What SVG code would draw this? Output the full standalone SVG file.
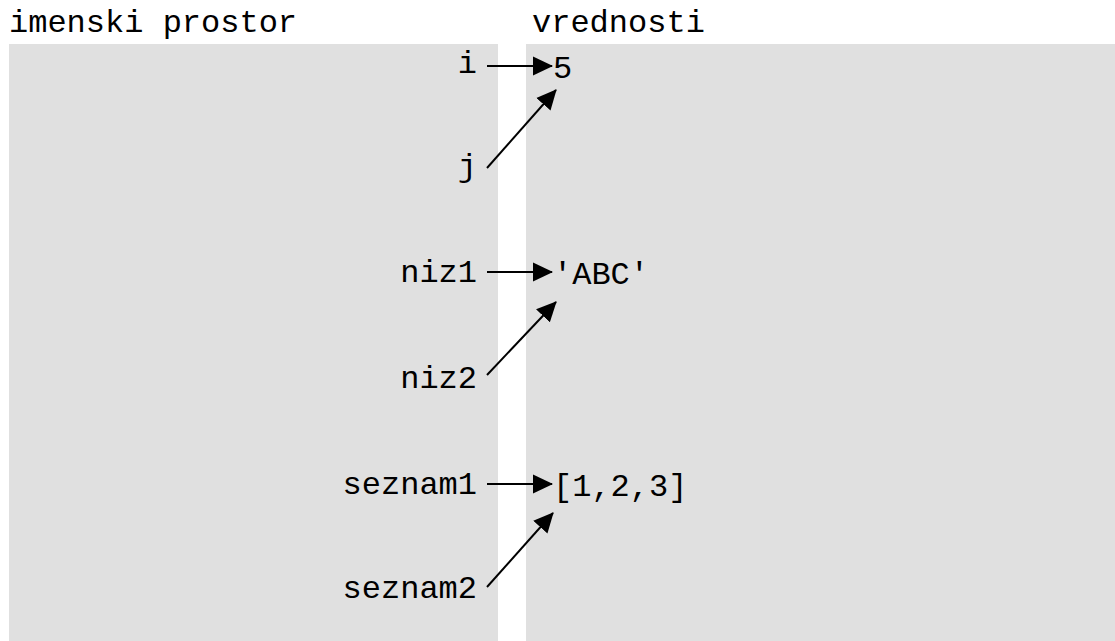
<svg xmlns="http://www.w3.org/2000/svg" width="1115" height="641" viewBox="0 0 1115 641">
<style>
text{font-family:"Liberation Mono","Courier New",monospace;font-size:32px;fill:#000}
.n{text-anchor:end}
.panel{fill:#e0e0e0}
.c line{stroke:#000;stroke-width:2;marker-end:url(#ah)}
</style>
<defs>
<marker id="ah" viewBox="0 0 20 20" refX="19" refY="10" markerWidth="20" markerHeight="20" markerUnits="userSpaceOnUse" orient="auto">
<path d="M0,0.5 L20,10 L0,19.5 Z" fill="#000"/>
</marker>
</defs>
<rect width="1115" height="641" fill="#fff"/>
<g id="namespace">
<rect class="panel" x="9" y="44" width="489" height="597"/>
<text x="9" y="32">imenski prostor</text>
</g>
<g id="values">
<rect class="panel" x="526" y="44" width="589" height="597"/>
<text x="532" y="32">vrednosti</text>
</g>
<g id="name-i"><text class="n" x="477" y="73">i</text></g>
<g id="name-j"><text class="n" x="477" y="176">j</text></g>
<g id="name-niz1"><text class="n" x="477" y="282">niz1</text></g>
<g id="name-niz2"><text class="n" x="477" y="388">niz2</text></g>
<g id="name-seznam1"><text class="n" x="477" y="494">seznam1</text></g>
<g id="name-seznam2"><text class="n" x="477" y="598">seznam2</text></g>
<g id="val-5"><text x="553" y="78">5</text></g>
<g id="val-abc"><text x="553" y="284">'ABC'</text></g>
<g id="val-list"><text x="553" y="496">[1,2,3]</text></g>
<g class="c" id="connectors">
<line x1="487" y1="66" x2="552" y2="66"/>
<line x1="487" y1="168" x2="556" y2="90"/>
<line x1="487" y1="272" x2="552" y2="272"/>
<line x1="487" y1="375" x2="556" y2="302"/>
<line x1="487" y1="484" x2="552" y2="484"/>
<line x1="487" y1="587" x2="553" y2="513"/>
</g>
</svg>
